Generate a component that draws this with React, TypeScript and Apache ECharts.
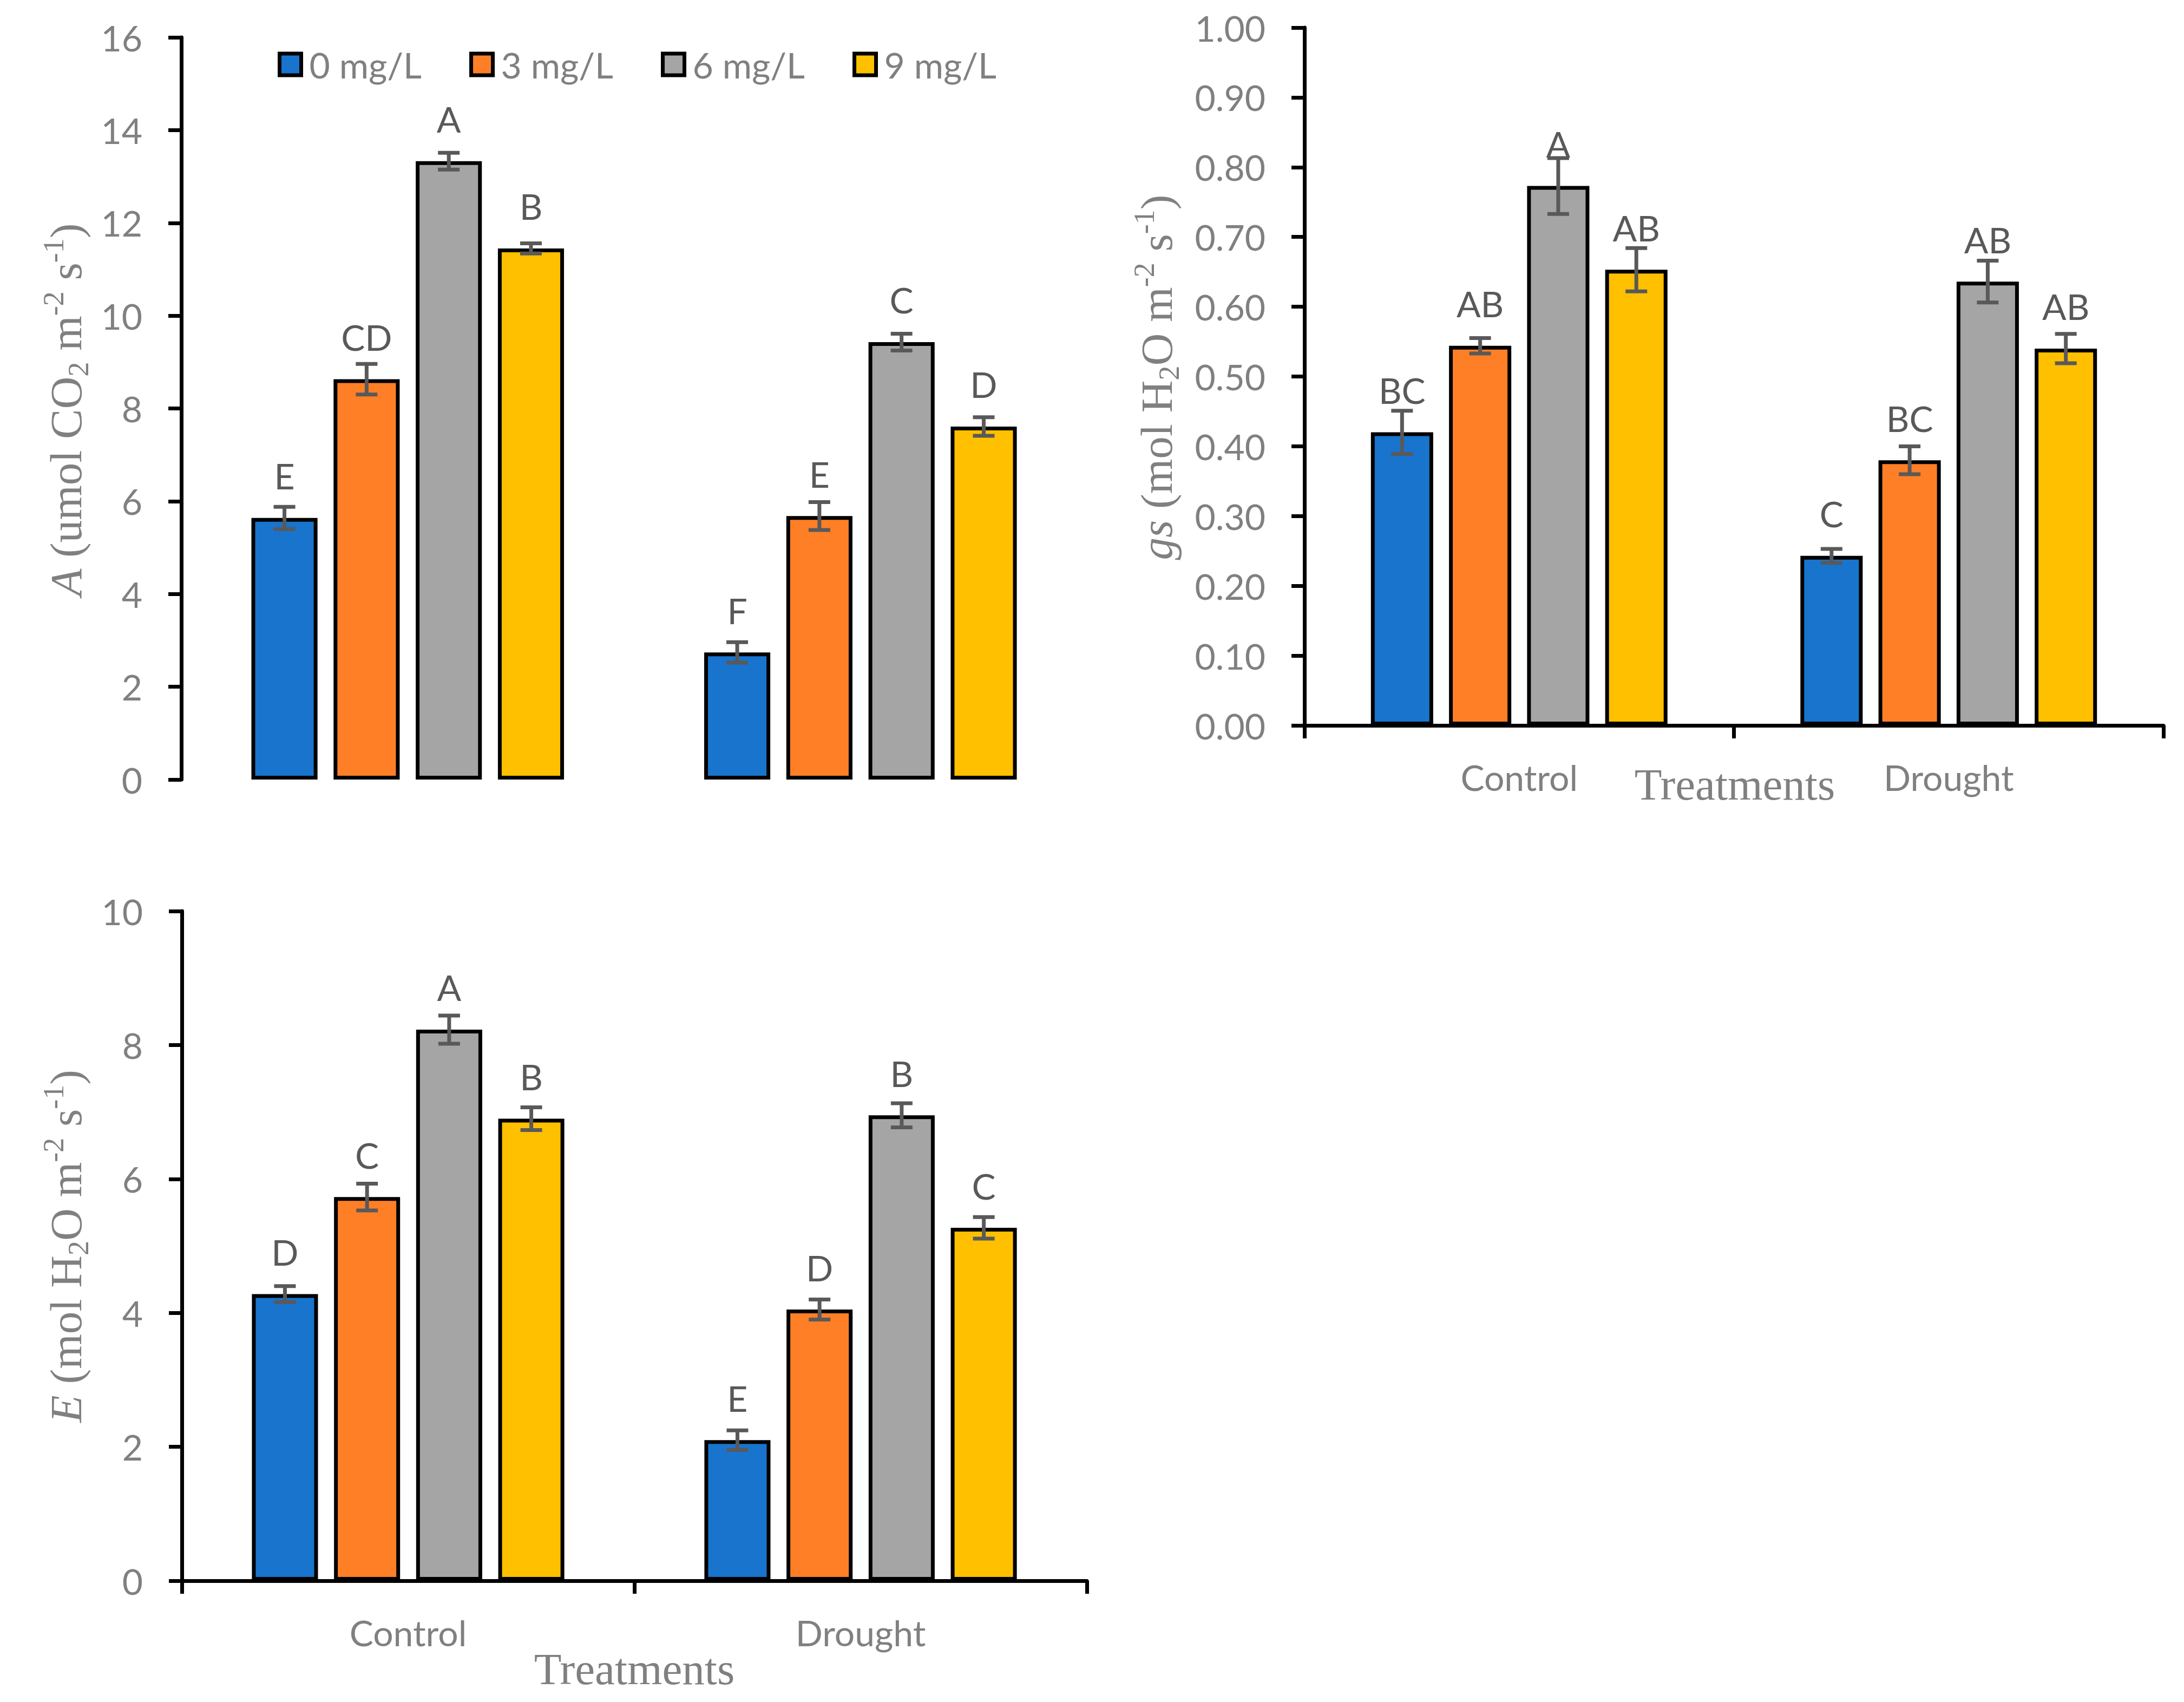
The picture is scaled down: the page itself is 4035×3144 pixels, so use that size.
import React, { useEffect, useRef } from 'react';
import * as echarts from 'echarts';

// ---------------- data ----------------
const CATEGORIES = ['Control', 'Drought'];
const DOSES = ['0 mg/L', '3 mg/L', '6 mg/L', '9 mg/L'];
const DOSE_COLORS = ['#1874CD', '#FF7F27', '#A5A5A5', '#FFC000'];

// Photosynthetic rate A  [dose][category]
const A_VALUES = [
  [5.64, 2.74],
  [8.63, 5.68],
  [13.33, 9.43],
  [11.45, 7.61],
];
const A_ERRORS = [
  [0.24, 0.22],
  [0.33, 0.3],
  [0.18, 0.18],
  [0.11, 0.2],
];
const A_LETTERS = [
  ['E', 'F'],
  ['CD', 'E'],
  ['A', 'C'],
  ['B', 'D'],
];
const A_AXIS = { min: 0, max: 16, interval: 2 };

// Stomatal conductance gs
const GS_VALUES = [
  [0.42, 0.243],
  [0.544, 0.38],
  [0.773, 0.636],
  [0.653, 0.54],
];
const GS_ERRORS = [
  [0.031, 0.01],
  [0.011, 0.02],
  [0.04, 0.03],
  [0.031, 0.021],
];
const GS_LETTERS = [
  ['BC', 'C'],
  ['AB', 'BC'],
  ['A', 'AB'],
  ['AB', 'AB'],
];
const GS_AXIS = { min: 0, max: 1, interval: 0.1 };

// Transpiration rate E
const E_VALUES = [
  [4.28, 2.1],
  [5.73, 4.05],
  [8.23, 6.95],
  [6.9, 5.27],
];
const E_ERRORS = [
  [0.12, 0.145],
  [0.2, 0.15],
  [0.21, 0.18],
  [0.17, 0.16],
];
const E_LETTERS = [
  ['D', 'E'],
  ['C', 'D'],
  ['A', 'B'],
  ['B', 'C'],
];
const E_AXIS = { min: 0, max: 10, interval: 2 };

const A_TITLE = '{i|A} (umol CO{sub|2} m{sup|-2} s{sup|-1})';
const GS_TITLE = '{i|gs} (mol H{sub|2}O m{sup|-2} s{sup|-1})';
const E_TITLE = '{i|E} (mol H{sub|2}O m{sup|-2} s{sup|-1})';
const X_TITLE = 'Treatments';

// ---------------- styling ----------------
const SANS = 'Lato';
const SERIF = 'Liberation Serif';
const GRAY_TEXT = '#808080';
const DARK_TEXT = '#595959';
const FS = 66;

function buildPanel(
  gi: number,
  values: number[][],
  errors: number[][],
  letters: string[][],
  bw: number,
  bg: number
) {
  const series: any[] = DOSES.map((name, s) => ({
    type: 'bar',
    name,
    xAxisIndex: gi,
    yAxisIndex: gi,
    data: values[s],
    barWidth: bw * 100 + '%',
    barGap: bg * 100 + '%',
    itemStyle: { color: DOSE_COLORS[s], borderColor: '#000', borderWidth: 7 },
    label: {
      show: true,
      position: 'top',
      distance: 45,
      formatter: (p: any) => letters[s][p.dataIndex],
      color: DARK_TEXT,
      fontFamily: SANS,
      fontSize: FS,
      lineHeight: FS,
    },
    z: 2,
  }));
  const errData: number[][] = [];
  DOSES.forEach((_, s) => {
    CATEGORIES.forEach((__, c) => {
      errData.push([c, values[s][c], errors[s][c], s]);
    });
  });
  series.push({
    type: 'custom',
    xAxisIndex: gi,
    yAxisIndex: gi,
    silent: true,
    z: 5,
    encode: { x: 0, y: 1 },
    data: errData,
    renderItem: (params: any, api: any) => {
      const c = api.value(0);
      const v = api.value(1);
      const e = api.value(2);
      const s = api.value(3);
      const band = api.size([1, 0])[0];
      const pitch = band * bw * (1 + bg);
      const cx = api.coord([c, v])[0] + (s - 1.5) * pitch;
      const yt = api.coord([c, v + e])[1];
      const yb = api.coord([c, v - e])[1];
      const style = { stroke: '#595959', lineWidth: 7 };
      return {
        type: 'group',
        children: [
          { type: 'line', shape: { x1: cx, y1: yt, x2: cx, y2: yb }, style },
          { type: 'line', shape: { x1: cx - 20, y1: yt, x2: cx + 20, y2: yt }, style },
          { type: 'line', shape: { x1: cx - 20, y1: yb, x2: cx + 20, y2: yb }, style },
        ],
      };
    },
  });
  return series;
}

function yAxisOf(gi: number, ax: { min: number; max: number; interval: number }, digits: number) {
  return {
    type: 'value',
    gridIndex: gi,
    min: ax.min,
    max: ax.max,
    interval: ax.interval,
    axisLine: { show: true, lineStyle: { color: '#000', width: 7 } },
    axisTick: { show: true, inside: false, length: 24, lineStyle: { color: '#000', width: 7 } },
    splitLine: { show: false },
    axisLabel: {
      margin: 72,
      color: GRAY_TEXT,
      fontFamily: SANS,
      fontSize: FS,
      formatter: (v: number) => v.toFixed(digits),
    },
  };
}

function xAxisOf(gi: number, visible: boolean) {
  return {
    type: 'category',
    gridIndex: gi,
    data: CATEGORIES,
    show: visible,
    axisLine: { show: visible, onZero: false, lineStyle: { color: '#000', width: 7 } },
    axisTick: { show: visible, alignWithLabel: false, length: 24, lineStyle: { color: '#000', width: 7 } },
    axisLabel: {
      show: visible,
      margin: 62,
      color: GRAY_TEXT,
      fontFamily: SANS,
      fontSize: FS,
      lineHeight: FS,
    },
    splitLine: { show: false },
  };
}

function titleText(text: string, x: number, y: number, rotate: boolean) {
  return {
    type: 'text',
    x,
    y,
    rotation: rotate ? Math.PI / 2 : 0,
    silent: true,
    style: {
      text,
      fill: GRAY_TEXT,
      fontFamily: SERIF,
      fontSize: 83,
      lineHeight: 100,
      align: 'center',
      verticalAlign: 'middle',
      rich: {
        i: { fontFamily: SERIF, fontSize: 83, fontStyle: 'italic', lineHeight: 100, fill: GRAY_TEXT },
        sub: { fontFamily: SERIF, fontSize: 54, lineHeight: 40, verticalAlign: 'bottom', fill: GRAY_TEXT },
        sup: { fontFamily: SERIF, fontSize: 54, lineHeight: 70, verticalAlign: 'top', fill: GRAY_TEXT },
      },
    },
  };
}

const LEGEND_LEFTS = [513, 867, 1221, 1575];

export default function App() {
  const ref = useRef<HTMLDivElement>(null);
  useEffect(() => {
    if (!ref.current) return;
    const chart = echarts.init(ref.current, undefined, { renderer: 'svg' });
    // bar width (outer, fraction of category band) and gap (fraction of bar width)
    const BW1 = 0.146;
    const BG1 = 0.243;
    const BW2 = 0.145;
    const BG2 = 0.254;
    const option: any = {
      animation: false,
      backgroundColor: '#ffffff',
      grid: [
        { left: 335, top: 69, width: 1673, height: 1371, containLabel: false, outerBoundsMode: 'none' },
        { left: 2410, top: 51, width: 1587, height: 1289, containLabel: false, outerBoundsMode: 'none' },
        { left: 336, top: 1683, width: 1672, height: 1237, containLabel: false, outerBoundsMode: 'none' },
      ],
      legend: DOSES.map((name, i) => ({
        data: [name],
        left: LEGEND_LEFTS[i],
        top: 86,
        padding: 0,
        icon: 'rect',
        itemWidth: 40,
        itemHeight: 40,
        selectedMode: false,
        itemStyle: { borderColor: '#000', borderWidth: 7 },
        textStyle: {
          color: GRAY_TEXT,
          fontFamily: SANS,
          fontSize: FS,
          padding: [0, 0, 0, 10],
        },
      })),
      xAxis: [xAxisOf(0, false), xAxisOf(1, true), xAxisOf(2, true)],
      yAxis: [yAxisOf(0, A_AXIS, 0), yAxisOf(1, GS_AXIS, 2), yAxisOf(2, E_AXIS, 0)],
      series: [
        ...buildPanel(0, A_VALUES, A_ERRORS, A_LETTERS, BW1, BG1),
        ...buildPanel(1, GS_VALUES, GS_ERRORS, GS_LETTERS, BW2, BG2),
        ...buildPanel(2, E_VALUES, E_ERRORS, E_LETTERS, BW1, BG1),
      ],
      graphic: [
        titleText(A_TITLE, 122, 757, true),
        titleText(GS_TITLE, 2137, 697, true),
        titleText(E_TITLE, 122, 2302, true),
        titleText(X_TITLE, 3205, 1449, false),
        titleText(X_TITLE, 1172, 3083, false),
      ],
    };
    chart.setOption(option);
    return () => chart.dispose();
  }, []);
  return (
    <div
      ref={ref}
      style={{ position: 'fixed', left: 0, top: 0, width: 4035, height: 3144, background: '#fff' }}
    />
  );
}
